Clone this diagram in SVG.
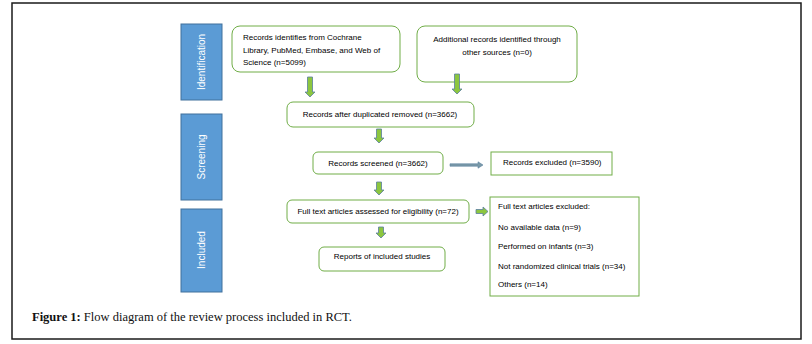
<svg xmlns="http://www.w3.org/2000/svg" width="812" height="344" viewBox="0 0 812 344">
<style>
.frame{fill:#fff;stroke:#1a1a1a;stroke-width:1.5}
.stage{fill:#5b9bd5;stroke:#41719c;stroke-width:1}
.stage-t{font-family:"Liberation Sans",Arial,sans-serif;font-size:10px;fill:#fff;text-anchor:middle}
.box{fill:#fff;stroke:#70ad47;stroke-width:1}
.t{font-family:"Liberation Sans",Arial,sans-serif;font-size:8px;fill:#000}
.c{text-anchor:middle}
.arr{fill:#8cc63f;stroke:#5a7fa0;stroke-width:0.8}
.harr{fill:#7a9aa8;stroke:#5a7fa0;stroke-width:0.6}
.cap{font-family:"Liberation Serif","Times New Roman",serif;font-size:12.5px;fill:#111}
</style>
<rect class="frame" x="12" y="3" width="789" height="336"/>

<g id="stage-identification"><rect class="stage" x="181" y="24" width="41" height="76"/><text class="stage-t" transform="translate(205 62) rotate(-90)">Identification</text></g>
<g id="stage-screening"><rect class="stage" x="181" y="114" width="41" height="86"/><text class="stage-t" transform="translate(205 157) rotate(-90)">Screening</text></g>
<g id="stage-included"><rect class="stage" x="181" y="209" width="41" height="83"/><text class="stage-t" transform="translate(205 250) rotate(-90)">Included</text></g>

<g id="n1"><rect class="box" x="232" y="26" width="168" height="46" rx="8"/>
<text class="t" x="243" y="40">Records identifies from Cochrane</text>
<text class="t" x="243" y="53">Library, PubMed, Embase, and Web of</text>
<text class="t" x="243" y="65">Science (n=5099)</text></g>

<g id="n2"><rect class="box" x="417" y="26" width="160" height="56" rx="8"/>
<text class="t c" x="497" y="42">Additional records identified through</text>
<text class="t c" x="497" y="55">other sources (n=0)</text></g>

<g id="n3"><rect class="box" x="287" y="102" width="187" height="25" rx="6"/>
<text class="t c" x="380" y="117">Records after duplicated removed (n=3662)</text></g>

<g id="n4"><rect class="box" x="313" y="152" width="130" height="22" rx="5"/>
<text class="t c" x="378" y="166">Records screened (n=3662)</text></g>

<g id="n5"><rect class="box" x="491" y="152" width="121" height="23"/>
<text class="t" x="503" y="165">Records excluded (n=3590)</text></g>

<g id="n6"><rect class="box" x="287" y="200" width="182" height="23" rx="5"/>
<text class="t c" x="378" y="214">Full text articles assessed for eligibility (n=72)</text></g>

<g id="n7"><rect class="box" x="490" y="197" width="149" height="99"/>
<text class="t" x="498" y="209">Full text articles excluded:</text>
<text class="t" x="498" y="230">No available data (n=9)</text>
<text class="t" x="498" y="249">Performed on infants (n=3)</text>
<text class="t" x="498" y="269">Not randomized clinical trials (n=34)</text>
<text class="t" x="498" y="287">Others (n=14)</text></g>

<g id="n8"><rect class="box" x="319" y="247" width="126" height="24" rx="5"/>
<text class="t c" x="382" y="259">Reports of included studies</text></g>

<g id="connectors">
<path class="arr" d="M307.5 77 h5 v15 h2.5 l-5 5 l-5 -5 h2.5 z"/>
<path class="arr" d="M454.5 74 h5 v15 h2.5 l-5 5 l-5 -5 h2.5 z"/>
<path class="arr" d="M376.5 129 h5 v9 h2.5 l-5 5 l-5 -5 h2.5 z"/>
<path class="arr" d="M376.5 182 h5 v8 h2.5 l-5 5 l-5 -5 h2.5 z"/>
<path class="arr" d="M378.5 227 h5 v6 h2.5 l-5 5 l-5 -5 h2.5 z"/>
<path class="harr" d="M450 163.8 h28 v-2 l5 3.2 l-5 3.2 v-2 h-28 z"/>
<path class="arr" d="M476 209.5 h7 v-2.5 l5 4.5 l-5 4.5 v-2.5 h-7 z"/>
</g>

<text class="cap" x="32" y="321"><tspan font-weight="bold">Figure 1:</tspan> Flow diagram of the review process included in RCT.</text>
</svg>
